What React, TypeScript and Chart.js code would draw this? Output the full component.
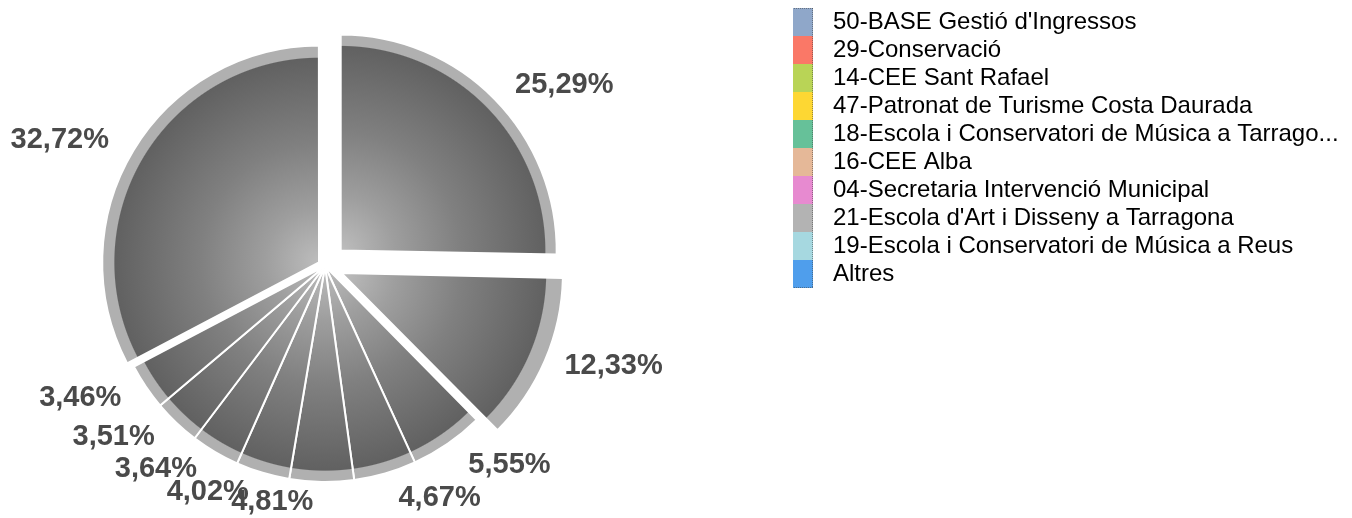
import React, { useEffect, useRef } from 'react';
import { Chart, registerables } from 'chart.js';

Chart.register(...registerables);

// ---- data ----
const categories = [
  "50-BASE Gestió d'Ingressos",
  '29-Conservació',
  '14-CEE Sant Rafael',
  '47-Patronat de Turisme Costa Daurada',
  '18-Escola i Conservatori de Música a Tarrago...',
  '16-CEE Alba',
  '04-Secretaria Intervenció Municipal',
  "21-Escola d'Art i Disseny a Tarragona",
  '19-Escola i Conservatori de Música a Reus',
  'Altres',
];
const shares = [25.29, 12.33, 5.55, 4.67, 4.81, 4.02, 3.64, 3.51, 3.46, 32.72];
const shareLabels = shares.map((v) => v.toFixed(2).replace('.', ',') + '%');
const legendColors = [
  '#8fa7c9',
  '#fa7867',
  '#b9d456',
  '#fdd733',
  '#66c199',
  '#e5b898',
  '#e78ad0',
  '#b3b3b3',
  '#a6d8e0',
  '#4f9eec',
];
// explode distance (px) per slice
const explodePx = [22, 18, 0, 0, 0, 0, 0, 0, 0, 7];

// ---- style constants ----
const FAMILY = "'Liberation Sans', Arial, sans-serif";
const OFFSET_DIV = 4; // Chart.js v4 arc draw uses offset/4
const PIE_R = 216;
const LABEL_R = 236;
const CX = 325; // page coords of pie centre
const CY = 266;
const W = 1352;
const H = 518;
const LEGEND_LEFT = 793; // page x of legend box left
const LEGEND_TOP = 6;
// canvas extends beyond the page to place the pie centre freely
const SHIFT_X = LEGEND_LEFT - 2 * CX;
const EXTRA_B = 2 * CY - LEGEND_TOP - H;
const CW = W + SHIFT_X;
const CH = H + EXTRA_B;

function makeSwatch(color: string, i: number, n: number): HTMLCanvasElement {
  const c = document.createElement('canvas');
  c.width = 46;
  c.height = 28;
  const g = c.getContext('2d')!;
  g.fillStyle = color;
  g.fillRect(0, 0, 27, 28);
  g.strokeStyle = 'rgba(70,70,70,0.55)';
  g.lineWidth = 1;
  g.setLineDash([1, 1]);
  g.beginPath();
  g.moveTo(0.5, 0);
  g.lineTo(0.5, 28);
  g.moveTo(26.5, 0);
  g.lineTo(26.5, 28);
  if (i === 0) {
    g.moveTo(0, 0.5);
    g.lineTo(27, 0.5);
  }
  if (i === n - 1) {
    g.moveTo(0, 27.5);
    g.lineTo(27, 27.5);
  }
  g.stroke();
  return c;
}

const sliceLabels = {
  id: 'sliceLabels',
  afterDatasetsDraw(chart: any) {
    const meta = chart.getDatasetMeta(0);
    const ctx = chart.ctx;
    ctx.save();
    ctx.font = `bold 29px ${FAMILY}`;
    ctx.fillStyle = '#4a4a4a';
    ctx.textBaseline = 'middle';
    meta.data.forEach((arc: any, i: number) => {
      const { x, y, startAngle, endAngle } = arc.getProps(['x', 'y', 'startAngle', 'endAngle'], true);
      const mid = (startAngle + endAngle) / 2;
      const off = (arc.options.offset || 0) / OFFSET_DIV;
      const dx = Math.cos(mid);
      const dy = Math.sin(mid);
      const right = dx >= 0;
      const r = LABEL_R + off + (right && off === 0 ? 6 : 0);
      ctx.textAlign = right ? 'left' : 'right';
      ctx.fillText(shareLabels[i], x + dx * r + (right ? 6 : -8), y + dy * r);
    });
    ctx.restore();
  },
};

export default function App() {
  const ref = useRef<HTMLCanvasElement>(null);

  useEffect(() => {
    const canvas = ref.current!;
    const m = canvas.getContext('2d')!;
    m.font = `24px ${FAMILY}`;
    const maxW = Math.max(...categories.map((t) => m.measureText(t).width));
    // legend width = 50 + maxW ; legend.left (canvas) = CW - padRight - width
    const legendLeftCanvas = LEGEND_LEFT + SHIFT_X;
    const padRight = Math.max(0, CW - legendLeftCanvas - (50 + maxW));

    const swatches = legendColors.map((c, i) => makeSwatch(c, i, legendColors.length));

    const chart = new Chart(canvas, {
      type: 'pie',
      data: {
        labels: categories,
        datasets: [
          {
            data: shares,
            offset: explodePx.map((p) => p * OFFSET_DIV),
            borderColor: '#ffffff',
            borderWidth: 2,
            clip: false as any,
            backgroundColor: (c: any) => {
              const ch = c.chart;
              const a = ch.chartArea;
              if (!a) return '#808080';
              const cx = (a.left + a.right) / 2;
              const cy = (a.top + a.bottom) / 2;
              const g = ch.ctx.createRadialGradient(cx, cy, 0, cx, cy, PIE_R);
              g.addColorStop(0, '#bdbdbd');
              g.addColorStop(0.25, '#9e9e9e');
              g.addColorStop(0.55, '#808080');
              g.addColorStop(0.945, '#616161');
              g.addColorStop(0.95, '#b0b0b0');
              g.addColorStop(1, '#b0b0b0');
              return g;
            },
          } as any,
        ],
      },
      options: {
        responsive: false,
        maintainAspectRatio: false,
        animation: false,
        devicePixelRatio: 1,
        events: [],
        radius: PIE_R,
        layout: { padding: { left: 0, right: padRight, top: LEGEND_TOP, bottom: 0 } },
        plugins: {
          legend: {
            position: 'right',
            align: 'start',
            labels: {
              usePointStyle: true,
              padding: 4,
              color: '#4d4d4d',
              font: { family: FAMILY, size: 24 },
              generateLabels: () =>
                categories.map((t, i) => ({
                  text: t,
                  pointStyle: swatches[i] as any,
                  fillStyle: legendColors[i],
                  strokeStyle: legendColors[i],
                  lineWidth: 0,
                  hidden: false,
                  index: i,
                  datasetIndex: 0,
                })),
            },
          },
          tooltip: { enabled: false },
        },
      } as any,
      plugins: [sliceLabels],
    });
    return () => chart.destroy();
  }, []);

  return (
    <div
      style={{
        position: 'fixed',
        left: 0,
        top: 0,
        width: W,
        height: H,
        overflow: 'hidden',
        background: '#ffffff',
      }}
    >
      <canvas
        ref={ref}
        width={CW}
        height={CH}
        style={{ position: 'absolute', left: -SHIFT_X, top: 0, width: CW, height: CH, display: 'block' }}
      />
    </div>
  );
}
